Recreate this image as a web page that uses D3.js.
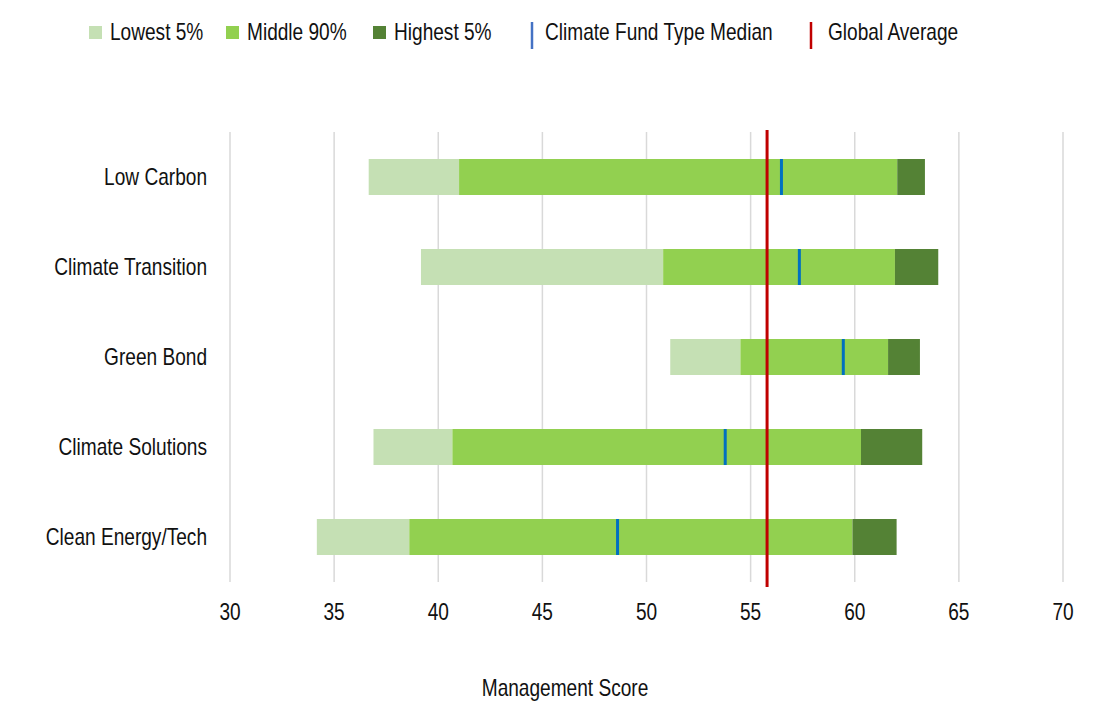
<!DOCTYPE html>
<html>
<head>
<meta charset="utf-8">
<script src="https://cdn.jsdelivr.net/npm/d3@7"></script>
<style>
  body { margin: 0; background: #fff; }
  text { font-family: "Liberation Sans", Arial, sans-serif; font-size: 23px; fill: #111; }
</style>
</head>
<body>
<div id="chart"></div>
<script>
// fund types, top to bottom
const categories = ["Low Carbon", "Climate Transition", "Green Bond", "Climate Solutions", "Clean Energy/Tech"];
// bar segment boundaries (management score)
const minScore  = [36.66, 39.17, 51.14, 36.89, 34.17];
const p5Score   = [41.0, 50.8, 54.51, 40.68, 38.61];
const p95Score  = [62.04, 61.93, 61.6, 60.3, 59.89];
const maxScore  = [63.37, 64.01, 63.13, 63.24, 62.01];
const medianScore = [56.48, 57.34, 59.45, 53.78, 48.61];
const globalAverage = 55.79;
const xTicks = [30, 35, 40, 45, 50, 55, 60, 65, 70];

const segNames = ["Lowest 5%", "Middle 90%", "Highest 5%"];
const segColors = ["#c5e0b4", "#92d050", "#548235"];

const width = 1096, height = 721;
const squeeze = 0.83; // condensed look
const svg = d3.select("#chart").append("svg")
    .attr("width", width)
    .attr("height", height);

// text helper: narrow the glyphs around the anchor point
function label(parent, px, py, str, anchor) {
    return parent.append("text")
        .attr("transform", `translate(${px},${py}) scale(${squeeze},1)`)
        .attr("text-anchor", anchor || "start")
        .attr("dominant-baseline", "central")
        .text(str);
}

const x = d3.scaleLinear().domain([30, 70]).range([230, 1063]);
const y = d3.scaleBand().domain(categories).range([132, 582]).paddingInner(0.6).paddingOuter(0.3);

// gridlines
svg.append("g").selectAll("line")
    .data(xTicks)
    .enter().append("line")
    .attr("x1", d => x(d)).attr("x2", d => x(d))
    .attr("y1", 132).attr("y2", 582)
    .attr("stroke", "#d9d9d9")
    .attr("stroke-width", 1.5);

// tick labels
const tickG = svg.append("g");
xTicks.forEach(t => label(tickG, x(t), 612, t, "middle"));

// stacked segments
const rows = categories.map((c, i) => ({
    cat: c,
    segs: [[minScore[i], p5Score[i]], [p5Score[i], p95Score[i]], [p95Score[i], maxScore[i]]],
    median: medianScore[i]
}));

const rowG = svg.append("g").selectAll("g")
    .data(rows)
    .enter().append("g");

rowG.selectAll("rect")
    .data(d => d.segs.map((s, k) => ({cat: d.cat, s: s, k: k})))
    .enter().append("rect")
    .attr("x", d => x(d.s[0]))
    .attr("width", d => x(d.s[1]) - x(d.s[0]))
    .attr("y", d => y(d.cat))
    .attr("height", y.bandwidth())
    .attr("fill", d => segColors[d.k]);

// fund type medians
rowG.append("line")
    .attr("x1", d => x(d.median)).attr("x2", d => x(d.median))
    .attr("y1", d => y(d.cat)).attr("y2", d => y(d.cat) + y.bandwidth())
    .attr("stroke", "#0070c0")
    .attr("stroke-width", 3);

// category labels
const catG = svg.append("g");
categories.forEach(c => label(catG, 207, y(c) + y.bandwidth() / 2, c, "end"));

// global average
svg.append("line")
    .attr("x1", x(globalAverage)).attr("x2", x(globalAverage))
    .attr("y1", 130).attr("y2", 587)
    .attr("stroke", "#c00000")
    .attr("stroke-width", 3);

// axis title
label(svg, 565, 688, "Management Score", "middle");

// legend
const legend = svg.append("g");
const swatchX = [89, 226, 373];
segNames.forEach((n, i) => {
    legend.append("rect")
        .attr("x", swatchX[i]).attr("y", 26)
        .attr("width", 13).attr("height", 13)
        .attr("fill", segColors[i]);
    label(legend, swatchX[i] + 21, 32, n);
});
const lineItems = [
    {name: "Climate Fund Type Median", color: "#4472c4", lx: 532, tx: 545},
    {name: "Global Average", color: "#c00000", lx: 811, tx: 828}
];
lineItems.forEach(d => {
    legend.append("line")
        .attr("x1", d.lx).attr("x2", d.lx)
        .attr("y1", 22).attr("y2", 49)
        .attr("stroke", d.color)
        .attr("stroke-width", 2.5);
    label(legend, d.tx, 32, d.name);
});
</script>
</body>
</html>
